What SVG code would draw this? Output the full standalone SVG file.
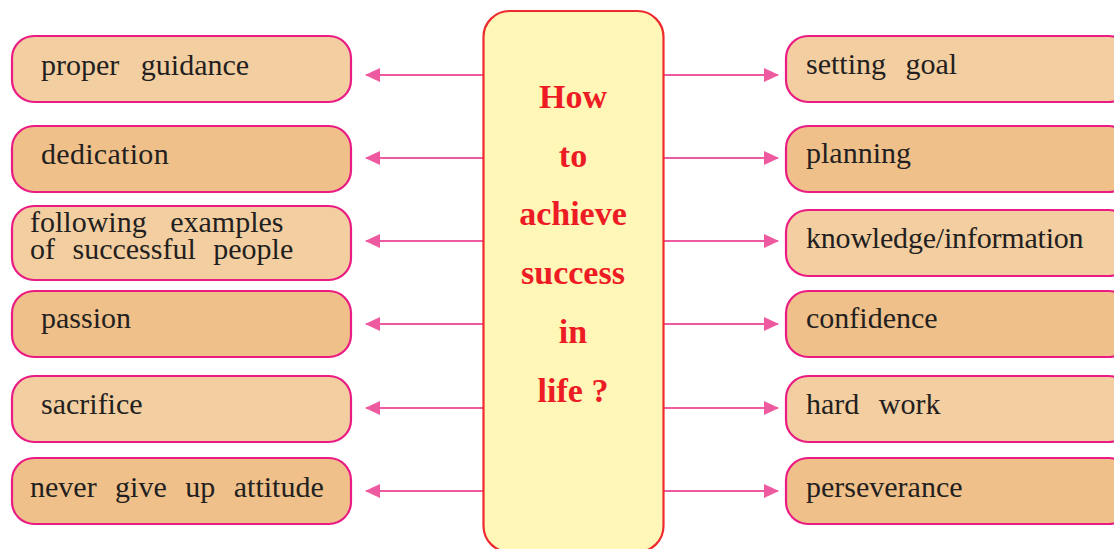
<svg xmlns="http://www.w3.org/2000/svg" width="1114" height="549" viewBox="0 0 1114 549">
<defs>
<style>
.box{stroke:#ea1c84;stroke-width:2.2}
.l{fill:#f3cea0}
.d{fill:#efc089}
.t{font-family:"Liberation Serif","Times New Roman",serif;font-size:30px;fill:#231f20;word-spacing:6px}
.c{font-family:"Liberation Serif","Times New Roman",serif;font-size:34px;font-weight:bold;fill:#ed1c24;text-anchor:middle}
.a{stroke:#ee5a9f;stroke-width:2;fill:none}
</style>
<marker id="ah" viewBox="0 0 15 15" refX="14" refY="7.5" markerWidth="15" markerHeight="15" markerUnits="userSpaceOnUse" orient="auto">
<path d="M0,0.5 L15,7.5 L0,14.5 Z" fill="#ee5a9f"/>
</marker>
</defs>
<rect width="1114" height="549" fill="#ffffff"/>
<g id="connectors">
<line class="a" x1="483" y1="75" x2="366" y2="75" marker-end="url(#ah)"/>
<line class="a" x1="483" y1="158" x2="366" y2="158" marker-end="url(#ah)"/>
<line class="a" x1="483" y1="241" x2="366" y2="241" marker-end="url(#ah)"/>
<line class="a" x1="483" y1="324" x2="366" y2="324" marker-end="url(#ah)"/>
<line class="a" x1="483" y1="408" x2="366" y2="408" marker-end="url(#ah)"/>
<line class="a" x1="483" y1="491" x2="366" y2="491" marker-end="url(#ah)"/>
<line class="a" x1="664" y1="75" x2="778" y2="75" marker-end="url(#ah)"/>
<line class="a" x1="664" y1="158" x2="778" y2="158" marker-end="url(#ah)"/>
<line class="a" x1="664" y1="241" x2="778" y2="241" marker-end="url(#ah)"/>
<line class="a" x1="664" y1="324" x2="778" y2="324" marker-end="url(#ah)"/>
<line class="a" x1="664" y1="408" x2="778" y2="408" marker-end="url(#ah)"/>
<line class="a" x1="664" y1="491" x2="778" y2="491" marker-end="url(#ah)"/>
</g>
<g id="center">
<rect x="483.5" y="11" width="180" height="541" rx="26" fill="#fef7b7" stroke="#ee2a2f" stroke-width="2.2"/>
<text class="c" x="573" y="108">How</text>
<text class="c" x="573" y="167">to</text>
<text class="c" x="573" y="225">achieve</text>
<text class="c" x="573" y="284">success</text>
<text class="c" x="573" y="343">in</text>
<text class="c" x="573" y="402">life ?</text>
</g>
<g id="n-proper-guidance">
<rect class="box l" x="12" y="36" width="339" height="66" rx="22"/>
<text class="t" x="41" y="75" style="word-spacing:14px">proper guidance</text>
</g>
<g id="n-dedication">
<rect class="box d" x="12" y="126" width="339" height="66" rx="22"/>
<text class="t" x="41" y="164" style="letter-spacing:0.3px">dedication</text>
</g>
<g id="n-following">
<rect class="box l" x="12" y="206" width="339" height="74" rx="22"/>
<text class="t" x="30" y="232" style="word-spacing:16px">following examples</text>
<text class="t" x="30" y="259" style="word-spacing:10px">of successful people</text>
</g>
<g id="n-passion">
<rect class="box d" x="12" y="291" width="339" height="66" rx="22"/>
<text class="t" x="41" y="328">passion</text>
</g>
<g id="n-sacrifice">
<rect class="box l" x="12" y="376" width="339" height="66" rx="22"/>
<text class="t" x="41" y="414">sacrifice</text>
</g>
<g id="n-never-give-up">
<rect class="box d" x="12" y="458" width="339" height="66" rx="22"/>
<text class="t" x="30" y="497" style="word-spacing:11px">never give up attitude</text>
</g>
<g id="n-setting-goal">
<rect class="box l" x="786" y="36" width="345" height="66" rx="22"/>
<text class="t" x="806" y="74" style="word-spacing:12px">setting goal</text>
</g>
<g id="n-planning">
<rect class="box d" x="786" y="126" width="345" height="66" rx="22"/>
<text class="t" x="806" y="163">planning</text>
</g>
<g id="n-knowledge">
<rect class="box l" x="786" y="210" width="345" height="66" rx="22"/>
<text class="t" x="806" y="248" style="letter-spacing:-0.2px">knowledge/information</text>
</g>
<g id="n-confidence">
<rect class="box d" x="786" y="291" width="345" height="66" rx="22"/>
<text class="t" x="806" y="328">confidence</text>
</g>
<g id="n-hard-work">
<rect class="box l" x="786" y="376" width="345" height="66" rx="22"/>
<text class="t" x="806" y="414" style="word-spacing:12px">hard work</text>
</g>
<g id="n-perseverance">
<rect class="box d" x="786" y="458" width="345" height="66" rx="22"/>
<text class="t" x="806" y="497">perseverance</text>
</g>
</svg>
